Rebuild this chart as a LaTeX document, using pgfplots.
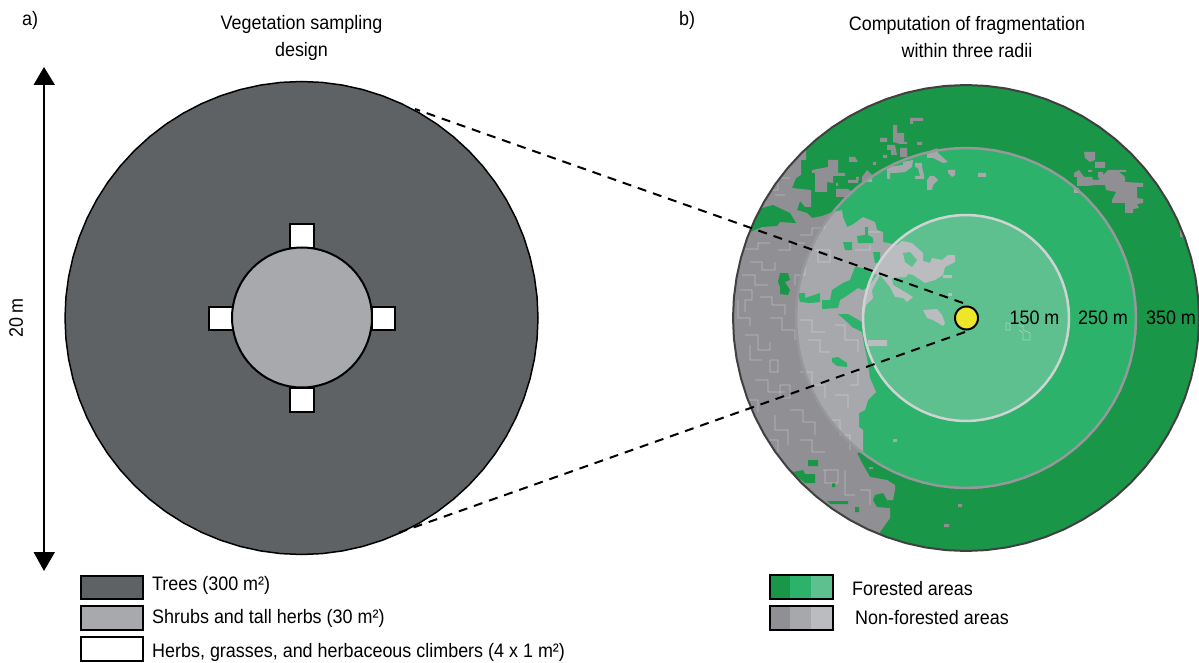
\documentclass[border=0pt]{standalone}
\usepackage{fontspec}
\setmainfont{Liberation Sans}
\usepackage{graphicx}
\usepackage{pgfplots}
\usepackage{pgfplotstable}
\pgfplotsset{compat=1.18}

\definecolor{trees}{RGB}{95,98,100}
\definecolor{shrubs}{RGB}{167,169,172}
\definecolor{forA}{RGB}{26,150,72}
\definecolor{forB}{RGB}{44,178,106}
\definecolor{forC}{RGB}{94,192,142}
\definecolor{nonA}{RGB}{143,143,148}
\definecolor{nonB}{RGB}{166,168,171}
\definecolor{nonC}{RGB}{186,188,191}
\definecolor{ringB}{RGB}{150,152,155}
\definecolor{ringC}{RGB}{208,211,212}
\definecolor{dot}{RGB}{238,230,40}

% unit circle in 5 degree steps, scaled and moved for each disc
\pgfplotstableread[row sep=\\]{
x y\\
1 0\\ .9962 .0872\\ .9848 .1736\\ .9659 .2588\\ .9397 .3420\\ .9063 .4226\\ .8660 .5\\ .8192 .5736\\ .7660 .6428\\ .7071 .7071\\ .6428 .7660\\ .5736 .8192\\ .5 .8660\\ .4226 .9063\\ .3420 .9397\\ .2588 .9659\\ .1736 .9848\\ .0872 .9962\\
0 1\\ -.0872 .9962\\ -.1736 .9848\\ -.2588 .9659\\ -.3420 .9397\\ -.4226 .9063\\ -.5 .8660\\ -.5736 .8192\\ -.6428 .7660\\ -.7071 .7071\\ -.7660 .6428\\ -.8192 .5736\\ -.8660 .5\\ -.9063 .4226\\ -.9397 .3420\\ -.9659 .2588\\ -.9848 .1736\\ -.9962 .0872\\
-1 0\\ -.9962 -.0872\\ -.9848 -.1736\\ -.9659 -.2588\\ -.9397 -.3420\\ -.9063 -.4226\\ -.8660 -.5\\ -.8192 -.5736\\ -.7660 -.6428\\ -.7071 -.7071\\ -.6428 -.7660\\ -.5736 -.8192\\ -.5 -.8660\\ -.4226 -.9063\\ -.3420 -.9397\\ -.2588 -.9659\\ -.1736 -.9848\\ -.0872 -.9962\\
0 -1\\ .0872 -.9962\\ .1736 -.9848\\ .2588 -.9659\\ .3420 -.9397\\ .4226 -.9063\\ .5 -.8660\\ .5736 -.8192\\ .6428 -.7660\\ .7071 -.7071\\ .7660 -.6428\\ .8192 -.5736\\ .8660 -.5\\ .9063 -.4226\\ .9397 -.3420\\ .9659 -.2588\\ .9848 -.1736\\ .9962 -.0872\\
}\unitcircle

% non-forested patches, one polygon per run, pixel coordinates
\pgfplotstableread[row sep=\\]{
x y\\
795 140\\ 806 150\\ 806 160\\ 801 160\\ 801 175\\ 796 178\\ 792 188\\ 811 190\\ 811 207\\ 805 207\\ 800 201\\ 797 210\\
807 213\\ 812 218\\ 822 216\\ 830 213\\ 842 210\\ 843 217\\ 847 227\\ 852 225\\ 863 217\\ 875 222\\ 877 230\\ 883 232\\ 883 242\\ 897 245\\
902 241\\ 912 243\\ 923 253\\ 923 261\\ 930 263\\ 932 258\\ 942 260\\ 948 255\\ 955 255\\ 955 262\\ 945 267\\ 943 275\\ 935 280\\ 925 283\\ 913 275\\ 908 274\\ 906 277\\ 892 278\\
893 285\\ 905 292\\ 913 297\\ 907 302\\ 903 298\\ 895 297\\ 890 287\\ 880 275\\ 872 290\\ 873 298\\ 866 305\\ 863 320\\ 862 332\\ 864 345\\
867 358\\ 870 378\\ 876 392\\ 868 400\\ 865 410\\ 859 413\\ 859 427\\ 863 430\\ 863 452\\ 857 453\\ 862 463\\ 870 477\\ 887 480\\ 895 485\\ 895 490\\ 893 500\\ 887 500\\ 890 508\\ 890 518\\ 880 532\\ 880 545\\
720 545\\ 720 140\\ nan nan\\
868 340\\ 887 340\\ 887 346\\ 868 346\\ nan nan\\
828 160\\ 838 160\\ 838 173\\ 845 173\\ 845 176\\ 833 176\\ 833 183\\ 827 182\\ 827 192\\ 815 192\\ 815 173\\ 812 173\\ 812 170\\ 828 167\\ nan nan\\
849 157\\ 855 157\\ 858 162\\ 849 162\\ nan nan\\
848 180\\ 856 180\\ 856 177\\ 859 177\\ 858 183\\ 848 183\\ nan nan\\
862 177\\ 867 170\\ 872 175\\ 872 182\\ 862 182\\ nan nan\\
836 189\\ 848 189\\ 852 192\\ 848 197\\ 836 197\\ nan nan\\
836 183\\ 838 183\\ 838 186\\ 836 186\\ nan nan\\
873 162\\ 876 162\\ 876 165\\ 873 165\\ nan nan\\
880 138\\ 887 138\\ 887 142\\ 880 142\\ nan nan\\
893 125\\ 897 125\\ 897 133\\ 904 133\\ 904 142\\ 907 142\\ 907 144\\ 900 144\\ 893 142\\ nan nan\\
887 145\\ 895 145\\ 897 155\\ 891 155\\ 891 150\\ 887 150\\ nan nan\\
900 148\\ 907 148\\ 907 157\\ 900 157\\ nan nan\\
917 142\\ 922 142\\ 922 145\\ 917 145\\ nan nan\\
910 118\\ 923 118\\ 923 121\\ 913 121\\ 913 124\\ 910 124\\ nan nan\\
883 155\\ 887 155\\ 887 158\\ 883 158\\ nan nan\\
887 167\\ 903 165\\ 903 162\\ 913 160\\ 912 167\\ 905 172\\ 895 173\\ 890 173\\ 890 179\\ 887 179\\ nan nan\\
915 163\\ 922 163\\ 922 167\\ 924 175\\ 924 179\\ 915 179\\ 915 176\\ 920 176\\ 918 168\\ 915 167\\ nan nan\\
930 176\\ 934 176\\ 938 180\\ 933 185\\ 932 190\\ 927 190\\ 927 180\\ nan nan\\
948 170\\ 955 170\\ 955 175\\ 952 177\\ 948 173\\ nan nan\\
978 173\\ 986 173\\ 986 177\\ 978 177\\ nan nan\\
927 152\\ 937 148\\ 938 153\\ 948 162\\ 943 163\\ 933 158\\ 927 158\\ nan nan\\
923 310\\ 937 309\\ 942 315\\ 945 323\\ 943 326\\ 933 320\\ 927 318\\ nan nan\\
948 293\\ 952 293\\ 952 296\\ 948 296\\ nan nan\\
943 275\\ 952 275\\ 952 278\\ 943 278\\ nan nan\\
893 439\\ 897 439\\ 897 442\\ 893 442\\ nan nan\\
869 467\\ 873 467\\ 873 469\\ 869 469\\ nan nan\\
958 504\\ 962 504\\ 962 507\\ 958 507\\ nan nan\\
944 524\\ 949 524\\ 949 527\\ 944 527\\ nan nan\\
1084 152\\ 1095 152\\ 1095 160\\ 1090 162\\ 1085 158\\ nan nan\\
1095 162\\ 1105 162\\ 1105 168\\ 1095 168\\ nan nan\\
1074 173\\ 1079 170\\ 1084 177\\ 1092 177\\ 1093 180\\ 1098 180\\ 1108 170\\ 1117 170\\ 1125 177\\ 1125 182\\ 1143 183\\ 1143 187\\ 1137 187\\ 1137 198\\ 1143 199\\ 1143 203\\ 1137 204\\ 1139 208\\ 1133 209\\ 1133 213\\ 1125 213\\ 1125 203\\ 1112 203\\ 1112 200\\ 1116 192\\ 1106 190\\ 1105 185\\ 1095 185\\ 1087 186\\ 1077 186\\ 1077 177\\ 1074 177\\ nan nan\\
1118 170\\ 1126 170\\ 1126 172\\ 1118 172\\ nan nan\\
1088 170\\ 1092 170\\ 1092 172\\ 1088 172\\ nan nan\\
1098 172\\ 1103 172\\ 1103 178\\ 1098 178\\ nan nan\\
1180 230\\ 1184 230\\ 1190 237\\ 1180 237\\ nan nan\\
1074 188\\ 1079 188\\ 1079 193\\ 1074 193\\
}\nonforest

% forest islands inside the non-forested mass
\pgfplotstableread[row sep=\\]{
x y\\
745 234\\ 755 210\\ 773 205\\ 790 213\\ 796 223\\ 780 222\\ 777 226\\ 762 227\\ nan nan\\
843 242\\ 852 242\\ 852 250\\ 845 250\\ nan nan\\
857 236\\ 865 235\\ 865 227\\ 868 227\\ 868 235\\ 873 238\\ 873 243\\ 858 243\\ nan nan\\
873 252\\ 880 252\\ 880 263\\ 875 263\\ nan nan\\
822 300\\ 830 300\\ 832 290\\ 843 283\\ 850 280\\ 855 267\\ 863 268\\ 877 275\\ 868 287\\ 863 290\\ 858 288\\ 845 297\\ 840 300\\ 838 308\\ 822 309\\ nan nan\\
780 273\\ 788 273\\ 790 280\\ 785 282\\ 790 290\\ 788 295\\ 780 294\\ 780 287\\ 778 282\\ nan nan\\
798 293\\ 805 293\\ 805 298\\ 820 293\\ 820 302\\ 810 303\\ 800 302\\ nan nan\\
838 314\\ 848 314\\ 862 322\\ 862 332\\ 852 327\\ 847 322\\ nan nan\\
832 358\\ 838 357\\ 847 363\\ 847 367\\ 837 366\\ 832 362\\ nan nan\\
808 460\\ 818 460\\ 818 466\\ 808 466\\ nan nan\\
787 467\\ 793 472\\ 803 470\\ 805 474\\ 815 474\\ 815 483\\ 805 483\\ 795 475\\ 789 473\\ nan nan\\
827 501\\ 848 501\\ 848 504\\ 830 504\\ nan nan\\
832 483\\ 835 483\\ 835 487\\ 832 487\\ nan nan\\
855 507\\ 859 507\\ 859 512\\ 855 512\\ nan nan\\
875 495\\ 883 493\\ 887 500\\ 890 508\\ 877 507\\ 873 500\\ nan nan\\
903 253\\ 910 252\\ 917 260\\ 912 267\\ 905 262\\
}\islands

% thin light traces left by the raster cells in the non-forested mass
\pgfplotstableread[row sep=\\]{
x y\\
745 249\\ 758 249\\ 758 243\\ 770 243\\ nan nan\\
750 262\\ 762 262\\ 762 270\\ 775 270\\ 775 262\\ nan nan\\
742 275\\ 755 275\\ 755 285\\ 768 285\\ nan nan\\
740 290\\ 752 290\\ 752 300\\ 745 300\\ 745 312\\ nan nan\\
738 300\\ 738 318\\ 750 318\\ 750 326\\ nan nan\\
760 297\\ 772 297\\ 772 305\\ 785 305\\ 785 315\\ nan nan\\
778 250\\ 790 250\\ 790 243\\ 805 243\\ nan nan\\
800 235\\ 812 235\\ 812 228\\ 825 228\\ 825 222\\ nan nan\\
815 250\\ 830 250\\ 830 262\\ 818 262\\ 818 250\\ nan nan\\
805 262\\ 805 275\\ 795 275\\ 795 285\\ nan nan\\
770 318\\ 782 318\\ 782 330\\ 795 330\\ 795 340\\ nan nan\\
745 335\\ 758 335\\ 758 350\\ 770 350\\ 770 342\\ nan nan\\
750 345\\ 750 360\\ 762 360\\ nan nan\\
770 360\\ 778 360\\ 778 372\\ 770 372\\ 770 360\\ nan nan\\
800 320\\ 812 320\\ 812 332\\ 825 332\\ nan nan\\
808 340\\ 820 340\\ 820 352\\ 830 352\\ nan nan\\
835 325\\ 845 325\\ 845 340\\ 858 340\\ 858 352\\ nan nan\\
850 372\\ 858 372\\ 858 385\\ 850 385\\ nan nan\\
800 372\\ 812 372\\ 812 385\\ 825 385\\ 825 398\\ nan nan\\
835 395\\ 848 395\\ 848 408\\ nan nan\\
780 385\\ 790 385\\ 790 398\\ 780 398\\ 780 385\\ nan nan\\
755 380\\ 768 380\\ 768 392\\ 785 392\\ nan nan\\
745 400\\ 758 400\\ 758 412\\ nan nan\\
790 410\\ 803 410\\ 803 422\\ 815 422\\ 815 435\\ nan nan\\
775 415\\ 775 430\\ 788 430\\ 788 445\\ nan nan\\
765 440\\ 778 440\\ 778 452\\ nan nan\\
800 440\\ 812 440\\ 812 452\\ 825 452\\ nan nan\\
830 420\\ 840 420\\ 840 435\\ 850 435\\ 850 450\\ nan nan\\
823 470\\ 838 470\\ 838 483\\ 825 483\\ 825 470\\ nan nan\\
845 470\\ 845 495\\ 855 495\\ nan nan\\
860 490\\ 870 490\\ 870 505\\ nan nan\\
765 190\\ 778 190\\ 778 178\\ 790 178\\ nan nan\\
775 195\\ 785 195\\ nan nan\\
868 232\\ 880 232\\ nan nan\\
855 250\\ 870 250\\ 870 245\\ nan nan\\
1006 323\\ 1010 323\\ 1010 330\\ 1006 330\\ 1006 323\\ nan nan\\
1019 326\\ 1023 326\\ 1023 330\\ 1030 333\\ 1030 340\\ 1023 340\\ 1023 333\\ 1019 330\\
}\traces

% centre x, centre y, radius, plot style
\newcommand{\disc}[4]{%
  \addplot[#4] table[x expr=#1+#3*\thisrow{x},y expr=#2+#3*\thisrow{y}] {\unitcircle} --cycle;}
\newcommand{\zone}[3]{%
  \disc{966}{318}{#1}{fill=#2,draw=none}
  \begin{scope}
    \clip (axis cs:966,318) circle [radius=#1pt];
    \addplot[fill=#3,draw=none,unbounded coords=jump] table {\nonforest};
    \addplot[fill=#2,draw=none,unbounded coords=jump] table {\islands};
  \end{scope}}
\newcommand{\T}[1]{\scalebox{.92}[1]{#1}}

\begin{document}
\begin{tikzpicture}
\begin{axis}[
    name=m,
    x=1pt, y=1pt, y dir=reverse,
    xmin=0, xmax=1199, ymin=0, ymax=663,
    hide axis,
    nodes={font=\fontsize{19.5}{22}\selectfont, inner sep=0pt, text=black},
]
% a) sampling plot
\disc{301.5}{318}{236.5}{fill=trees,draw=black,line width=1.5pt}
\addplot[fill=white,draw=black,line width=2pt] coordinates {(290,224)(314,224)(314,248)(290,248)} --cycle;
\addplot[fill=white,draw=black,line width=2pt] coordinates {(290,388)(314,388)(314,412)(290,412)} --cycle;
\addplot[fill=white,draw=black,line width=2pt] coordinates {(209,307)(233,307)(233,330)(209,330)} --cycle;
\addplot[fill=white,draw=black,line width=2pt] coordinates {(372,307)(395,307)(395,330)(372,330)} --cycle;
\disc{302}{317.5}{70}{fill=shrubs,draw=black,line width=2pt}
% 20 m arrow
\addplot[black,line width=2pt] coordinates {(44,80)(44,556)};
\addplot[fill=black,draw=none] coordinates {(44,67)(55,85)(33.5,85)};
\addplot[fill=black,draw=none] coordinates {(44,571)(55,552)(33.5,552)};

% b) fragmentation map
\zone{233}{forA}{nonA}
\zone{170}{forB}{nonB}
\zone{103}{forC}{nonC}
\addplot[white,opacity=0.4,line width=0.7pt,unbounded coords=jump] table {\traces};
\disc{966}{318}{233}{draw=black!75,line width=2pt}
\disc{966}{318}{170}{draw=ringB,line width=2.5pt}
\disc{966}{318}{103}{draw=ringC,line width=2.5pt}

% zoom lines
\addplot[black,line width=2pt,dash pattern=on 9pt off 7pt] coordinates {(963,303)(415,109)};
\addplot[black,line width=2pt,dash pattern=on 9pt off 7pt] coordinates {(965,332)(395,534)};
\disc{966.5}{318}{11.5}{fill=dot,draw=black,line width=2pt}

% legends
\addplot[fill=trees,draw=black,line width=2pt] coordinates {(81,575.5)(143,575.5)(143,598.5)(81,598.5)} --cycle;
\addplot[fill=shrubs,draw=black,line width=2pt] coordinates {(81,606)(143,606)(143,630)(81,630)} --cycle;
\addplot[fill=white,draw=black,line width=2pt] coordinates {(81,637)(143,637)(143,661)(81,661)} --cycle;
\addplot[fill=forA,draw=none] coordinates {(770,575)(790,575)(790,599)(770,599)};
\addplot[fill=forB,draw=none] coordinates {(790,575)(811,575)(811,599)(790,599)};
\addplot[fill=forC,draw=none] coordinates {(811,575)(833,575)(833,599)(811,599)};
\addplot[draw=black,line width=2pt] coordinates {(770,575)(833,575)(833,599)(770,599)} --cycle;
\addplot[fill=nonA,draw=none] coordinates {(770,606)(790,606)(790,630)(770,630)};
\addplot[fill=nonB,draw=none] coordinates {(790,606)(811,606)(811,630)(790,630)};
\addplot[fill=nonC,draw=none] coordinates {(811,606)(833,606)(833,630)(811,630)};
\addplot[draw=black,line width=2pt] coordinates {(770,606)(833,606)(833,630)(770,630)} --cycle;

% text
\node[anchor=base west] at (axis cs:22,26) {\T{a)}};
\node[anchor=base west] at (axis cs:679,26) {\T{b)}};
\node[anchor=base] at (axis cs:301.5,30) {\T{Vegetation sampling}};
\node[anchor=base] at (axis cs:301.5,57) {\T{design}};
\node[anchor=base] at (axis cs:967,31) {\T{Computation of fragmentation}};
\node[anchor=base] at (axis cs:967,58) {\T{within three radii}};
\node[rotate=90,anchor=base] at (axis cs:23,318) {\T{20 m}};
\node[anchor=base] at (axis cs:1034.5,324) {\T{150 m}};
\node[anchor=base] at (axis cs:1103,324) {\T{250 m}};
\node[anchor=base] at (axis cs:1171,324) {\T{350 m}};
\node[anchor=base west] at (axis cs:152,590) {\T{Trees (300 m²)}};
\node[anchor=base west] at (axis cs:152,623) {\T{Shrubs and tall herbs (30 m²)}};
\node[anchor=base west] at (axis cs:152,657) {\T{Herbs, grasses, and herbaceous climbers (4 x 1 m²)}};
\node[anchor=base west] at (axis cs:852,595) {\T{Forested areas}};
\node[anchor=base west] at (axis cs:855,624) {\T{Non-forested areas}};
\end{axis}
\pgfresetboundingbox
\path[use as bounding box] (m.south west) rectangle (m.north east);
\end{tikzpicture}
\end{document}
